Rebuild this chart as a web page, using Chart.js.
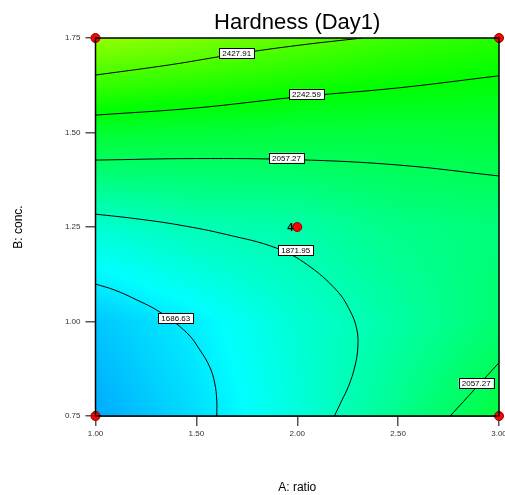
<!DOCTYPE html>
<html>
<head>
<meta charset="utf-8">
<script src="https://cdn.jsdelivr.net/npm/chart.js@4.4.1/dist/chart.umd.min.js"></script>
<style>
	html, body { margin: 0; padding: 0; background: #fff; }
	#wrap { width: 505px; height: 495px; }
</style>
</head>
<body>
<div id="wrap"><canvas id="mycanvas" width="505" height="495"></canvas></div>
<script>
// factor levels on the grid (A: ratio, B: conc.)
var gridA = [1.00, 1.50, 2.00, 2.50, 3.00];
var gridB = [0.75, 1.00, 1.25, 1.50, 1.75];
// estimated hardness at each grid point, one row per B level
var hardness = [
	[1550, 1660, 1800, 1970, 2130],
	[1610, 1700, 1820, 1920, 2030],
	[1820, 1885, 1910, 1980, 2010],
	[2170, 2150, 2140, 2140, 2150],
	[2580, 2530, 2460, 2390, 2340]
];

// contour lines
var c2427 = [{x:1.0,y:1.652},{x:1.368,y:1.679},{x:1.70,y:1.708},{x:2.011,y:1.731},{x:2.323,y:1.75}];
var c2242 = [{x:1.0,y:1.546},{x:1.5,y:1.565},{x:2.0,y:1.594},{x:2.5,y:1.618},{x:3.0,y:1.650}];
var c2057a = [{x:1.0,y:1.427},{x:1.5,y:1.431},{x:2.0,y:1.428},{x:2.5,y:1.414},{x:3.0,y:1.385}];
var c2057b = [{x:2.758,y:0.75},{x:3.0,y:0.891}];
var c1872 = [{x:1.0,y:1.284},{x:1.2,y:1.272},{x:1.418,y:1.255},{x:1.65,y:1.230},{x:1.898,y:1.194},{x:2.05,y:1.150},{x:2.194,y:1.083},{x:2.26,y:1.03},{x:2.295,y:0.98},{x:2.30,y:0.93},{x:2.285,y:0.88},{x:2.255,y:0.83},{x:2.22,y:0.79},{x:2.184,y:0.75}];
var c1687 = [{x:1.0,y:1.099},{x:1.096,y:1.083},{x:1.205,y:1.057},{x:1.319,y:1.025},{x:1.453,y:0.970},{x:1.517,y:0.925},{x:1.566,y:0.880},{x:1.591,y:0.837},{x:1.601,y:0.792},{x:1.601,y:0.75}];

var contourLabels = ["2427.91", "2242.59", "2057.27", "1871.95", "1686.63", "2057.27"];
var contourLabelPos = [{x:1.700,y:1.710},{x:2.046,y:1.602},{x:1.947,y:1.433},{x:1.992,y:1.189},{x:1.398,y:1.009},{x:2.887,y:0.837}];

// design points
var designPts = [{x:1,y:0.75},{x:3,y:0.75},{x:1,y:1.75},{x:3,y:1.75},{x:2,y:1.25}];
var designCounts = ["", "", "", "", "4"];

var xTicks = [1.00, 1.50, 2.00, 2.50, 3.00];
var yTicks = [0.75, 1.00, 1.25, 1.50, 1.75];

function valueAt(a, b) {
	var i = 0, j = 0;
	while (i < gridA.length - 2 && a > gridA[i+1]) i++;
	while (j < gridB.length - 2 && b > gridB[j+1]) j++;
	var tx = (a - gridA[i]) / (gridA[i+1] - gridA[i]);
	var ty = (b - gridB[j]) / (gridB[j+1] - gridB[j]);
	tx = Math.max(0, Math.min(1, tx));
	ty = Math.max(0, Math.min(1, ty));
	var v0 = hardness[j][i] * (1 - tx) + hardness[j][i+1] * tx;
	var v1 = hardness[j+1][i] * (1 - tx) + hardness[j+1][i+1] * tx;
	return v0 * (1 - ty) + v1 * ty;
}

function colourOf(v) {
	var h = 200 - (v - 1550) * (115 / 1030);
	h = Math.max(0, Math.min(240, h)) / 60;
	var c = 255, x = 255 * (1 - Math.abs(h % 2 - 1));
	if (h < 1) return [c, x, 0];
	if (h < 2) return [x, c, 0];
	if (h < 3) return [0, c, x];
	if (h < 4) return [0, x, c];
	return [x, 0, c];
}

var fieldPlugin = {
	id: 'field',
	beforeDatasetsDraw: function(chart) {
		var area = chart.chartArea, sx = chart.scales.x, sy = chart.scales.y;
		var w = Math.round(area.right - area.left), h = Math.round(area.bottom - area.top);
		var off = document.createElement('canvas');
		off.width = w; off.height = h;
		var octx = off.getContext('2d');
		var img = octx.createImageData(w, h);
		for (var py = 0; py < h; py++) {
			var b = sy.getValueForPixel(area.top + py + 0.5);
			for (var px = 0; px < w; px++) {
				var a = sx.getValueForPixel(area.left + px + 0.5);
				var col = colourOf(valueAt(a, b));
				var k = (py * w + px) * 4;
				img.data[k] = col[0]; img.data[k+1] = col[1]; img.data[k+2] = col[2]; img.data[k+3] = 255;
			}
		}
		octx.putImageData(img, 0, 0);
		chart.ctx.drawImage(off, area.left, area.top, area.right - area.left, area.bottom - area.top);
	},
	afterDatasetsDraw: function(chart) {
		var ctx = chart.ctx, area = chart.chartArea, sx = chart.scales.x, sy = chart.scales.y;
		ctx.save();
		// contour labels
		ctx.font = '8px Arial, "Liberation Sans", sans-serif';
		ctx.textAlign = 'center';
		ctx.textBaseline = 'middle';
		for (var i = 0; i < contourLabels.length; i++) {
			var px = sx.getPixelForValue(contourLabelPos[i].x);
			var py = sy.getPixelForValue(contourLabelPos[i].y);
			var tw = ctx.measureText(contourLabels[i]).width + 6;
			ctx.fillStyle = '#fff';
			ctx.fillRect(px - tw/2, py - 5, tw, 10);
			ctx.strokeStyle = '#000';
			ctx.lineWidth = 1;
			ctx.strokeRect(Math.round(px - tw/2) + 0.5, Math.round(py - 5) + 0.5, Math.round(tw), 10);
			ctx.fillStyle = '#000';
			ctx.fillText(contourLabels[i], px, py + 0.5);
		}
		// frame
		ctx.strokeStyle = '#000';
		ctx.lineWidth = 1.5;
		ctx.strokeRect(area.left, area.top, area.right - area.left, area.bottom - area.top);
		ctx.restore();
	},
	afterDraw: function(chart) {
		var ctx = chart.ctx, sx = chart.scales.x, sy = chart.scales.y;
		ctx.save();
		ctx.font = 'bold 11px Arial, "Liberation Sans", sans-serif';
		ctx.fillStyle = '#000';
		ctx.textAlign = 'right';
		ctx.textBaseline = 'middle';
		for (var i = 0; i < designPts.length; i++) {
			if (!designCounts[i]) continue;
			ctx.fillText(designCounts[i], sx.getPixelForValue(designPts[i].x) - 4, sy.getPixelForValue(designPts[i].y) + 1);
		}
		ctx.restore();
	}
};

function contourSet(pts) {
	return {
		type: 'scatter',
		data: pts,
		showLine: true,
		borderColor: '#000',
		borderWidth: 1,
		pointRadius: 0,
		tension: 0.4,
		fill: false
	};
}

var ctx = document.getElementById('mycanvas');

var chart = new Chart(ctx, {
	type: 'scatter',
	data: {
		datasets: [
			{
				data: designPts,
				pointRadius: 4.5,
				pointBackgroundColor: '#ff0000',
				pointBorderColor: '#8b0000',
				pointBorderWidth: 1,
				clip: false,
				order: 0
			},
			contourSet(c2427),
			contourSet(c2242),
			contourSet(c2057a),
			contourSet(c2057b),
			contourSet(c1872),
			contourSet(c1687)
		]
	},
	options: {
		responsive: false,
		animation: false,
		events: [],
		layout: { padding: { left: 0, right: 6, top: 0, bottom: 0 } },
		plugins: {
			legend: { display: false },
			tooltip: { enabled: false },
			title: {
				display: true,
				text: 'Hardness (Day1)',
				fullSize: false,
				color: '#000',
				font: { family: 'Arial, "Liberation Sans", sans-serif', size: 22, weight: 'normal' },
				padding: { top: 10, bottom: 1.6 }
			}
		},
		scales: {
			x: {
				type: 'linear',
				min: 1, max: 3,
				afterBuildTicks: function(scale) {
					scale.ticks = xTicks.map(function(v) { return { value: v }; });
				},
				afterFit: function(scale) {
					scale.height = 79;
					scale.paddingLeft = 0;
					scale.paddingRight = 0;
				},
				ticks: {
					color: '#333',
					font: { family: 'Arial, "Liberation Sans", sans-serif', size: 8 },
					padding: 3,
					maxRotation: 0,
					callback: function(v) { return Number(v).toFixed(2); }
				},
				grid: { drawOnChartArea: false, tickLength: 10, color: '#555', lineWidth: 1.5 },
				border: { color: '#000', width: 1.5 },
				title: {
					display: true,
					text: 'A: ratio',
					color: '#000',
					font: { family: 'Arial, "Liberation Sans", sans-serif', size: 12 },
					padding: { top: 0, bottom: 0 }
				}
			},
			y: {
				type: 'linear',
				min: 0.75, max: 1.75,
				afterBuildTicks: function(scale) {
					scale.ticks = yTicks.map(function(v) { return { value: v }; });
				},
				afterFit: function(scale) {
					scale.width = 95.5;
				},
				ticks: {
					color: '#333',
					font: { family: 'Arial, "Liberation Sans", sans-serif', size: 8 },
					padding: 5,
					callback: function(v) { return Number(v).toFixed(2); }
				},
				grid: { drawOnChartArea: false, tickLength: 10, color: '#555', lineWidth: 1.5 },
				border: { color: '#000', width: 1.5 },
				title: {
					display: true,
					text: 'B: conc.',
					color: '#000',
					font: { family: 'Arial, "Liberation Sans", sans-serif', size: 12 },
					padding: { top: 11, bottom: 0 }
				}
			}
		}
	},
	plugins: [fieldPlugin]
});
</script>
</body>
</html>
